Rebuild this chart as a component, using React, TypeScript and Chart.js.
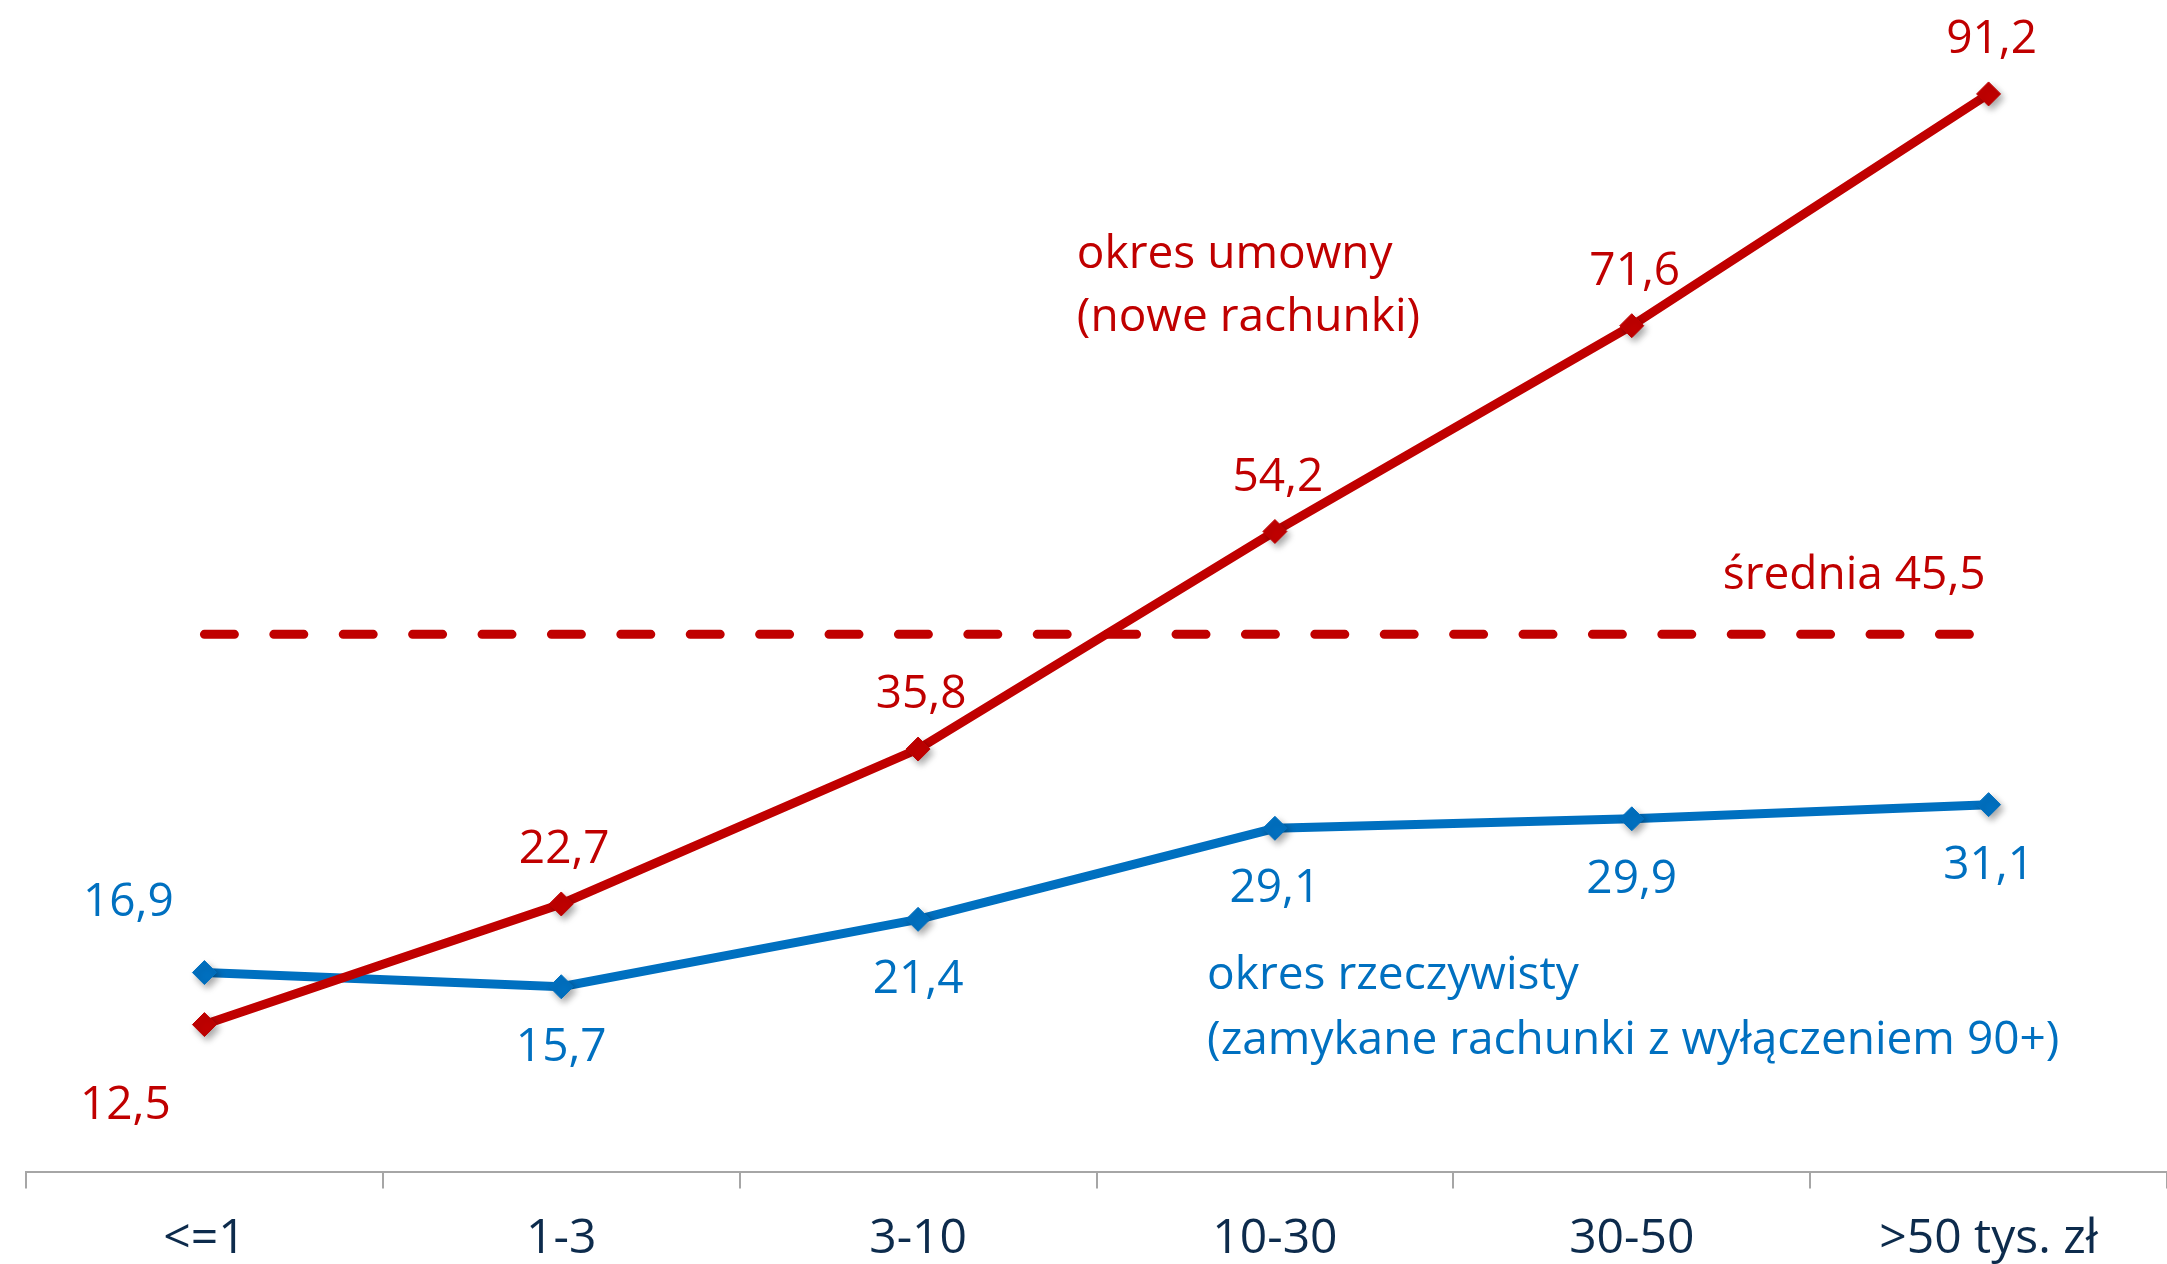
import React, { useEffect, useRef } from "react";
import { Chart, registerables } from "chart.js";

Chart.register(...registerables);

const categories = ["<=1", "1-3", "3-10", "10-30", "30-50", ">50 tys. zł"];
const contractual = [12.5, 22.7, 35.8, 54.2, 71.6, 91.2];
const actual = [16.9, 15.7, 21.4, 29.1, 29.9, 31.1];
const averageValue = 45.5;
const average = categories.map(() => averageValue);

const redLabelPos = ["belowLeft", "above", "above", "above", "above", "above"];
const blueLabelPos = ["aboveLeft", "below", "below", "below", "below", "below"];

const RED = "#C00000";
const BLUE = "#0070C0";
const FONT = "'Open Sans', 'DejaVu Sans', sans-serif";

const fmt = (v: number) => v.toFixed(1).replace(".", ",");

const offsets: Record<string, [number, number]> = {
  above: [3, -54],
  below: [0, 61],
  belowLeft: [-79, 81],
  aboveLeft: [-76, -70],
};

const markerShadowPlugin = {
  id: "markerShadow",
  beforeDatasetDraw(chart: any, args: any) {
    if (args.index > 1) return;
    const ctx = chart.ctx;
    const line = args.meta.dataset;
    if (line && !line.__patched) {
      const orig = line.draw.bind(line);
      line.draw = (c: any, area: any) => {
        c.save();
        c.shadowColor = "rgba(0,0,0,0)";
        c.shadowBlur = 0;
        c.shadowOffsetX = 0;
        c.shadowOffsetY = 0;
        orig(c, area);
        c.restore();
      };
      line.__patched = true;
    }
    ctx.save();
    ctx.shadowColor = "rgba(0,0,0,0.35)";
    ctx.shadowBlur = 7;
    ctx.shadowOffsetX = 3;
    ctx.shadowOffsetY = 4;
  },
  afterDatasetDraw(chart: any, args: any) {
    if (args.index > 1) return;
    chart.ctx.restore();
  },
};

const labelsPlugin = {
  id: "customLabels",
  afterDatasetsDraw(chart: any) {
    const ctx = chart.ctx;
    ctx.save();
    ctx.font = `46px ${FONT}`;
    ctx.textAlign = "center";
    ctx.textBaseline = "middle";
    const sets: [number, string[], string, number[]][] = [
      [0, redLabelPos, RED, contractual],
      [1, blueLabelPos, BLUE, actual],
    ];
    sets.forEach(([idx, pos, color, vals]) => {
      const meta = chart.getDatasetMeta(idx);
      ctx.fillStyle = color;
      meta.data.forEach((pt: any, i: number) => {
        const [dx, dy] = offsets[pos[i]];
        ctx.fillText(fmt(vals[i]), pt.x + dx, pt.y + dy);
      });
    });

    const x = chart.scales.x;
    const y = chart.scales.y;
    const cw = x.getPixelForValue(1) - x.getPixelForValue(0);
    ctx.textAlign = "left";
    ctx.fillStyle = RED;
    const ax = x.getPixelForValue(2) + 0.445 * cw;
    ctx.fillText("okres umowny", ax, y.getPixelForValue(77.6));
    ctx.fillText("(nowe rachunki)", ax, y.getPixelForValue(72.3));

    ctx.textAlign = "right";
    ctx.fillText(`średnia ${fmt(averageValue)}`, x.getPixelForValue(5) - 3, y.getPixelForValue(averageValue) - 58);

    ctx.textAlign = "left";
    ctx.fillStyle = BLUE;
    const bx = x.getPixelForValue(3) - 0.19 * cw;
    ctx.fillText("okres rzeczywisty", bx, y.getPixelForValue(16.6));
    ctx.fillText("(zamykane rachunki z wyłączeniem 90+)", bx, y.getPixelForValue(11.1));
    ctx.restore();
  },
};

export default function App() {
  const ref = useRef<HTMLCanvasElement | null>(null);
  useEffect(() => {
    document.body.style.margin = "0";
    if (!ref.current) return;
    const chart = new Chart(ref.current, {
      type: "line",
      data: {
        labels: categories,
        datasets: [
          {
            data: contractual,
            borderColor: RED,
            backgroundColor: RED,
            borderWidth: 9,
            pointStyle: "rectRot",
            pointRadius: 12,
            pointBorderWidth: 1,
            pointBackgroundColor: RED,
            pointBorderColor: RED,
            tension: 0,
          },
          {
            data: actual,
            borderColor: BLUE,
            backgroundColor: BLUE,
            borderWidth: 9,
            pointStyle: "rectRot",
            pointRadius: 12,
            pointBorderWidth: 1,
            pointBackgroundColor: BLUE,
            pointBorderColor: BLUE,
            tension: 0,
          },
          {
            data: average,
            borderColor: RED,
            borderWidth: 9,
            borderDash: [30, 39.4],
            borderCapStyle: "round",
            pointRadius: 0,
            tension: 0,
          },
        ],
      },
      options: {
        animation: false,
        responsive: false,
        maintainAspectRatio: false,
        layout: { autoPadding: false, padding: { left: 26, right: 0, top: 49, bottom: -26 } },
        plugins: {
          legend: { display: false },
          tooltip: { enabled: false },
          title: { display: false },
        },
        scales: {
          x: {
            offset: true,
            grid: {
              offset: true,
              drawOnChartArea: false,
              drawTicks: true,
              tickLength: 16,
              color: "#a6a6a6",
              lineWidth: 2,
            },
            border: { display: true, color: "#a6a6a6", width: 2 },
            ticks: {
              color: "#0d2b4c",
              font: { family: FONT, size: 48 },
              padding: 22,
              maxRotation: 0,
              autoSkip: false,
            },
          },
          y: {
            display: false,
            min: 0,
            max: 95,
          },
        },
      },
      plugins: [markerShadowPlugin, labelsPlugin],
    });
    return () => chart.destroy();
  }, []);
  return (
    <div style={{ width: 2167, height: 1264, overflow: "hidden" }}>
      <canvas ref={ref} width={2167} height={1264} style={{ display: "block" }} />
    </div>
  );
}
